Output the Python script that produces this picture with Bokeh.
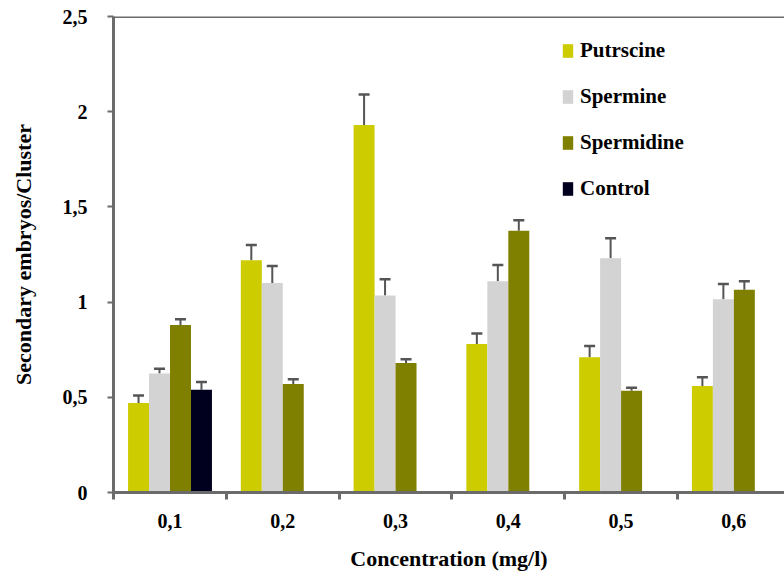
from bokeh.plotting import figure
from bokeh.models import (ColumnDataSource, FixedTicker, Range1d, Whisker, TeeHead,
                          Span, Legend, LegendItem)
from bokeh.embed import file_html
from bokeh.resources import INLINE

categories = ["0,1", "0,2", "0,3", "0,4", "0,5", "0,6"]
putrescine = [0.47, 1.22, 1.93, 0.78, 0.71, 0.56]
putrescine_err = [0.04, 0.08, 0.16, 0.055, 0.06, 0.045]
spermine = [0.625, 1.10, 1.035, 1.11, 1.23, 1.015]
spermine_err = [0.025, 0.09, 0.085, 0.085, 0.105, 0.08]
spermidine = [0.88, 0.57, 0.68, 1.375, 0.535, 1.065]
spermidine_err = [0.03, 0.025, 0.02, 0.055, 0.015, 0.045]
control = [0.54]
control_err = [0.04]
y_ticks = [0, 0.5, 1, 1.5, 2, 2.5]
y_tick_labels = ["0", "0,5", "1", "1,5", "2", "2,5"]

series = [
    ("Putrscine", putrescine, putrescine_err, "#cccc00"),
    ("Spermine", spermine, spermine_err, "#d3d3d3"),
    ("Spermidine", spermidine, spermidine_err, "#808000"),
    ("Control", control, control_err, "#00001e"),
]

FONT = "serif"
AXIS_COLOR = "#6b6b6b"
ERR_COLOR = "#555555"
BAR_W = 0.186
FIRST = 0.222

p = figure(width=784, height=575, output_backend="svg", toolbar_location=None,
           x_range=Range1d(0, 5.95), y_range=Range1d(0, 2.5),
           min_border_left=113, min_border_right=0, min_border_top=16,
           min_border_bottom=83)
p.grid.visible = False
p.outline_line_color = None
p.background_fill_color = "white"
p.border_fill_color = "white"

items = []
for k, (name, vals, errs, color) in enumerate(series):
    xs = [i + FIRST + k * BAR_W for i in range(len(vals))]
    src = ColumnDataSource(dict(x=xs, top=vals,
                                upper=[v + e for v, e in zip(vals, errs)]))
    r = p.vbar(x="x", top="top", width=BAR_W, source=src, fill_color=color,
               line_color=None)
    w = Whisker(base="x", lower="top", upper="upper", source=src,
                dimension="height", line_color=ERR_COLOR, line_width=2,
                lower_head=None,
                upper_head=TeeHead(size=11, line_color=ERR_COLOR, line_width=2.5))
    p.add_layout(w)
    items.append(LegendItem(label=name, renderers=[r]))

legend = Legend(items=items, location=(448, 291), padding=0, margin=0,
                border_line_color=None, background_fill_alpha=0,
                glyph_width=13, glyph_height=17, spacing=21, label_height=24,
                label_standoff=6, label_text_font=FONT,
                label_text_font_style="bold", label_text_font_size="21px",
                label_text_color="black")
p.add_layout(legend)

p.add_layout(Span(location=2.5, dimension="width", line_color=AXIS_COLOR,
                  line_width=3))

# y axis
ya = p.yaxis[0]
ya.ticker = FixedTicker(ticks=y_ticks, minor_ticks=[])
ya.major_label_overrides = {t: l for t, l in zip(y_ticks, y_tick_labels)}
ya.axis_line_color = AXIS_COLOR
ya.axis_line_width = 3
ya.major_tick_line_color = AXIS_COLOR
ya.major_tick_line_width = 2
ya.major_tick_in = 0
ya.major_tick_out = 6
ya.minor_tick_line_color = None
ya.major_label_standoff = 20
ya.major_label_text_font = FONT
ya.major_label_text_font_style = "bold"
ya.major_label_text_font_size = "20px"
ya.major_label_text_color = "black"
ya.axis_label = "Secondary embryos/Cluster"
ya.axis_label_text_font = FONT
ya.axis_label_text_font_style = "bold"
ya.axis_label_text_font_size = "22px"
ya.axis_label_text_color = "black"
ya.axis_label_standoff = 24

# x axis
centers = [i + 0.5 for i in range(len(categories))]
bounds = list(range(len(categories) + 1))
xa = p.xaxis[0]
xa.ticker = FixedTicker(ticks=centers, minor_ticks=bounds)
xa.major_label_overrides = {c: l for c, l in zip(centers, categories)}
xa.axis_line_color = AXIS_COLOR
xa.axis_line_width = 3
xa.major_tick_line_color = None
xa.major_tick_in = 0
xa.major_tick_out = 0
xa.minor_tick_line_color = AXIS_COLOR
xa.minor_tick_line_width = 3
xa.minor_tick_in = 0
xa.minor_tick_out = 7
xa.major_label_standoff = 14
xa.major_label_text_font = FONT
xa.major_label_text_font_style = "bold"
xa.major_label_text_font_size = "20px"
xa.major_label_text_color = "black"
xa.axis_label = "Concentration (mg/l)"
xa.axis_label_text_font = FONT
xa.axis_label_text_font_style = "bold"
xa.axis_label_text_font_size = "22px"
xa.axis_label_text_color = "black"
xa.axis_label_standoff = 15

open("out.html", "w").write(file_html(p, INLINE))
